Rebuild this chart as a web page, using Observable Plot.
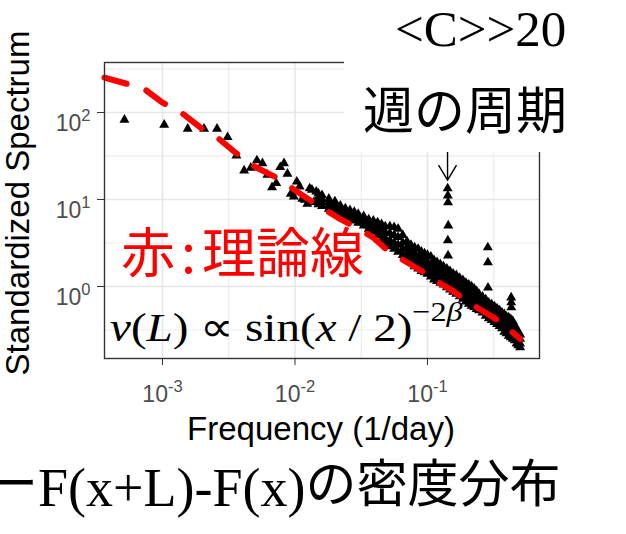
<!DOCTYPE html>
<html><head><meta charset="utf-8">
<script src="https://cdn.jsdelivr.net/npm/d3@7"></script>
<script src="https://cdn.jsdelivr.net/npm/@observablehq/plot@0.6"></script>
<style>
html,body{margin:0;padding:0;background:#fff;overflow:hidden;}
#chart{position:relative;width:626px;height:534px;overflow:hidden;}
</style></head><body><div id="chart"></div>
<script>
// ---- data ----
const xTicks = [0.001, 0.01, 0.1];
const yTicks = [1, 10, 100];
const xMinor = [0.00316, 0.0316, 0.316];
const yMinor = [0.316, 3.16, 31.6, 316];

// low-frequency periodogram points (sparse)
const sparseFreq = [0.000516, 0.00103, 0.00155, 0.00206, 0.00258, 0.0031, 0.00361, 0.00413, 0.00464, 0.00516, 0.00568, 0.00619, 0.00671, 0.00722, 0.00774, 0.00826, 0.00877, 0.00929, 0.0098, 0.01032, 0.01084, 0.01135, 0.01187, 0.01238, 0.0129, 0.01342, 0.01393, 0.01445];
const sparseSpec = [82.4, 72.3, 65.0, 65.0, 65.0, 52.0, 32.0, 21.5, 23.1, 28.1, 26.1, 19.2, 13.8, 15.4, 23.5, 26.1, 19.7, 11.6, 10.8, 16.0, 14.1, 10.2, 9.9, 8.9, 13.4, 12.9, 9.3, 12.3];

// dense band (top / upper / lower / bottom of the cloud at each frequency)
const bandFreq = [0.015, 0.016, 0.018, 0.020, 0.022, 0.024, 0.026, 0.028, 0.030, 0.033, 0.036, 0.039, 0.042, 0.045, 0.048, 0.052, 0.056, 0.060, 0.065, 0.070, 0.075, 0.080, 0.085, 0.090, 0.095, 0.100, 0.106, 0.112, 0.118, 0.125, 0.132, 0.140, 0.148, 0.156, 0.165, 0.175, 0.185, 0.195, 0.205, 0.215, 0.225, 0.235, 0.245, 0.260, 0.275, 0.290, 0.305, 0.320, 0.335, 0.350, 0.365, 0.380, 0.395, 0.410, 0.425, 0.440, 0.455, 0.470, 0.485, 0.500];
const bandTop = [11.7, 11.2, 10.2, 9.5, 8.5, 7.9, 7.5, 7.2, 6.8, 6.4, 5.9, 5.7, 5.45, 5.2, 4.9, 4.9, 4.8, 4.6, 3.9, 3.3, 3.0, 2.8, 2.7, 2.5, 2.4, 2.3, 2.2, 2.0, 1.9, 1.8, 1.7, 1.6, 1.5, 1.4, 1.35, 1.25, 1.18, 1.1, 1.05, 1.0, 0.94, 0.88, 0.82, 0.76, 0.71, 0.65, 0.62, 0.59, 0.56, 0.53, 0.50, 0.48, 0.45, 0.44, 0.42, 0.40, 0.36, 0.33, 0.30, 0.28];
const bandUpper = [10.6, 10.1, 9.3, 8.6, 7.8, 7.4, 6.9, 6.6, 6.3, 5.9, 5.4, 5.1, 4.9, 4.5, 4.2, 4.1, 3.9, 3.7, 3.2, 2.8, 2.6, 2.4, 2.2, 2.1, 2.0, 1.9, 1.8, 1.7, 1.6, 1.5, 1.45, 1.35, 1.25, 1.2, 1.12, 1.05, 0.98, 0.92, 0.87, 0.83, 0.79, 0.75, 0.71, 0.66, 0.62, 0.57, 0.54, 0.51, 0.48, 0.46, 0.44, 0.41, 0.39, 0.37, 0.35, 0.34, 0.31, 0.29, 0.27, 0.25];
const bandLower = [9.6, 9.2, 8.5, 7.8, 7.2, 6.9, 6.5, 6.2, 5.9, 5.4, 5.0, 4.7, 4.3, 3.9, 3.6, 3.4, 3.2, 3.0, 2.7, 2.4, 2.2, 2.0, 1.9, 1.75, 1.7, 1.6, 1.55, 1.4, 1.35, 1.3, 1.2, 1.15, 1.05, 1.0, 0.95, 0.9, 0.84, 0.78, 0.74, 0.71, 0.68, 0.64, 0.61, 0.58, 0.54, 0.49, 0.47, 0.45, 0.42, 0.40, 0.38, 0.35, 0.33, 0.31, 0.30, 0.29, 0.27, 0.25, 0.23, 0.22];
const bandBottom = [8.8, 8.4, 7.8, 7.1, 6.7, 6.5, 6.0, 5.7, 5.4, 5.0, 4.6, 4.3, 3.9, 3.4, 3.1, 2.9, 2.7, 2.5, 2.3, 2.1, 1.9, 1.7, 1.6, 1.5, 1.45, 1.4, 1.3, 1.2, 1.15, 1.1, 1.05, 0.98, 0.92, 0.87, 0.82, 0.77, 0.72, 0.67, 0.63, 0.60, 0.58, 0.55, 0.53, 0.50, 0.46, 0.43, 0.41, 0.39, 0.37, 0.35, 0.33, 0.30, 0.29, 0.27, 0.26, 0.25, 0.24, 0.22, 0.21, 0.20];

// weekly peaks (1/7, 2/7, 3/7 per day)
const peakFreq = [0.1419, 0.1424, 0.1429, 0.1434, 0.1424, 0.1429, 0.2852, 0.2857, 0.2862, 0.4281, 0.4286, 0.4291];
const peakSpec = [13.4, 11.1, 9.24, 5.02, 3.38, 2.27, 2.81, 1.89, 0.97, 0.747, 0.655, 0.574];

// red dashed theoretical line
const lineFreq = [0.000365, 0.00072, 0.001, 0.00142, 0.00194, 0.0027, 0.0036, 0.0051, 0.0075, 0.0103, 0.0138, 0.021, 0.0286, 0.0385, 0.05, 0.066, 0.097, 0.125, 0.154, 0.204, 0.238, 0.315, 0.368, 0.486, 0.5];
const lineSpec = [252, 189, 130, 97, 67, 49, 34, 23.3, 17.4, 12.4, 9.2, 6.2, 4.8, 3.7, 2.6, 2.0, 1.41, 1.08, 0.9, 0.655, 0.57, 0.44, 0.375, 0.26, 0.25];

// annotation arrow for the weekly period
const arrowFreq = 0.1429;
const arrowFrom = 34.7, arrowTo = 16.5;

// ---- build tables ----
const points = [];
sparseFreq.forEach((f, i) => points.push({f, s: sparseSpec[i]}));
bandFreq.forEach((f, i) => {
  points.push({f, s: bandTop[i]}, {f, s: bandUpper[i]}, {f, s: bandLower[i]}, {f, s: bandBottom[i]});
});
peakFreq.forEach((f, i) => points.push({f, s: peakSpec[i]}));
const theory = lineFreq.map((f, i) => ({f, s: lineSpec[i]}));

const sans = "'Liberation Sans', Arial, Helvetica, sans-serif";
const serif = "'Liberation Serif', 'Times New Roman', serif";
const cjk = "'Noto Sans CJK JP', sans-serif";
const expFmt = d => "10^" + Math.round(Math.log10(d));

const chart = Plot.plot({
  width: 626,
  height: 534,
  marginLeft: 104,
  marginRight: 87,
  marginTop: 62,
  marginBottom: 176,
  style: {background: "white", fontFamily: sans},
  x: {type: "log", domain: [0.000365, 0.7003]},
  y: {type: "log", domain: [0.1487, 375.6]},
  marks: [
    Plot.ruleX(xMinor, {stroke: "#ececec", strokeWidth: 1.2}),
    Plot.ruleY(yMinor, {stroke: "#ececec", strokeWidth: 1.2}),
    Plot.ruleX(xTicks, {stroke: "#e6e6e6", strokeWidth: 1.6}),
    Plot.ruleY(yTicks, {stroke: "#e6e6e6", strokeWidth: 1.6}),
    Plot.dot(points, {x: "f", y: "s", symbol: "triangle", r: 3.7, fill: "black", stroke: "none"}),
    Plot.line(theory, {x: "f", y: "s", stroke: "#ff0000", strokeWidth: 6, strokeDasharray: "23,21"}),
    Plot.frame({stroke: "#333333", strokeWidth: 1.4}),
    Plot.axisX(xTicks, {tickSize: 7, tickPadding: 20, tickFormat: expFmt, fontSize: 23, fill: "#4d4d4d", stroke: "#333333", label: null}),
    Plot.axisY(yTicks, {tickSize: 7, tickPadding: 7, tickFormat: expFmt, fontSize: 23, fill: "#4d4d4d", stroke: "#333333", label: null})
  ]
});
document.getElementById("chart").append(chart);

// superscript tick labels
const NS = "http://www.w3.org/2000/svg";
chart.querySelectorAll("text").forEach(t => {
  const m = /^10\^(-?\d+)$/.exec(t.textContent.trim());
  if (!m) return;
  const g = t.closest("g[aria-label]");
  const isY = g && /^y/.test(g.getAttribute("aria-label"));
  t.textContent = "";
  const base = document.createElementNS(NS, "tspan");
  base.textContent = "10";
  const sup = document.createElementNS(NS, "tspan");
  sup.setAttribute("font-size", "0.72em");
  sup.setAttribute("dy", "-0.6em");
  sup.textContent = m[1];
  t.append(base, sup);
  if (isY) t.setAttribute("dy", "0.5em");
});

const svg = d3.select(chart);
const xs = chart.scale("x"), ys = chart.scale("y");

// axis titles
svg.append("text")
  .attr("transform", "translate(29,203) rotate(-90)")
  .attr("text-anchor", "middle").attr("font-family", sans).attr("font-size", 33).attr("fill", "#000")
  .text("Standardized Spectrum");
svg.append("text")
  .attr("x", 321).attr("y", 440)
  .attr("text-anchor", "middle").attr("font-family", sans).attr("font-size", 33).attr("fill", "#000")
  .text("Frequency (1/day)");

// white label box covering top-right of panel
svg.append("rect").attr("x", 344).attr("y", 50).attr("width", 282).attr("height", 102).attr("fill", "#fff");

// arrow for weekly period
{
  const ax = xs.apply(arrowFreq), ay1 = ys.apply(arrowFrom), ay2 = ys.apply(arrowTo);
  svg.append("path")
    .attr("d", `M${ax},${ay1}L${ax},${ay2}M${ax - 9},${ay2 - 15}L${ax},${ay2}L${ax + 9},${ay2 - 15}`)
    .attr("fill", "none").attr("stroke", "#000").attr("stroke-width", 1.4);
}

// slide texts
svg.append("text").attr("x", 395).attr("y", 46).attr("text-anchor", "start")
  .attr("font-family", serif).attr("font-size", 51).attr("fill", "#000").text("<C>>20");
svg.append("text").attr("x", 363).attr("y", 129).attr("text-anchor", "start")
  .attr("font-family", cjk).attr("font-size", 51).attr("fill", "#000").text("週の周期");

{
  const r = svg.append("text").attr("x", 121).attr("y", 273).attr("text-anchor", "start")
    .attr("font-family", cjk).attr("font-size", 54).attr("fill", "#ff0000");
  r.append("tspan").text("赤");
  r.append("tspan").attr("dx", 6).text(":");
  r.append("tspan").attr("dx", 6).text("理論線");
}

{
  const g = svg.append("g");
  const f = g.append("text").attr("x", 0).attr("y", 0).attr("text-anchor", "start")
    .attr("font-family", serif).attr("font-size", 41).attr("fill", "#000");
  f.append("tspan").attr("font-style", "italic").text("ν");
  f.append("tspan").text("(");
  f.append("tspan").attr("font-style", "italic").text("L");
  f.append("tspan").text(") ∝ sin(");
  f.append("tspan").attr("font-style", "italic").text("x");
  f.append("tspan").text(" / 2)");
  f.append("tspan").attr("dy", -20).attr("font-size", 28).text("−2");
  f.append("tspan").attr("font-style", "italic").attr("font-size", 28).text("β");
  const w = f.node().getBBox().width || 353;
  g.attr("transform", `translate(110,341) scale(${353 / w},1)`);
}

{
  const b = svg.append("text").attr("x", -13).attr("y", 502).attr("text-anchor", "start").attr("fill", "#000");
  b.append("tspan").attr("font-family", cjk).attr("font-size", 51).text("ー");
  b.append("tspan").attr("font-family", serif).attr("font-size", 54).attr("dy", 4).text("F(x+L)-F(x)");
  b.append("tspan").attr("font-family", cjk).attr("font-size", 51).attr("dy", -4).text("の密度分布");
}
</script>
</body></html>
